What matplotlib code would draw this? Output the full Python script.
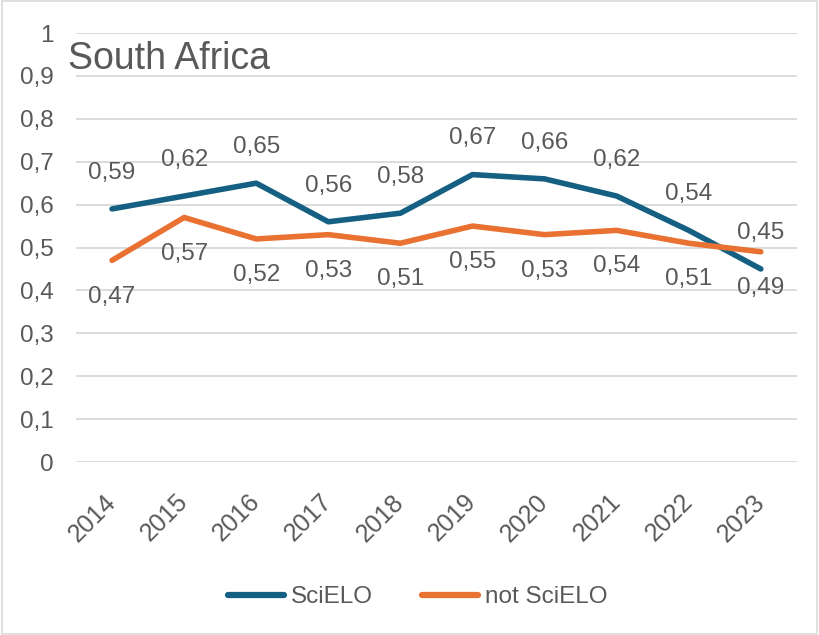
import matplotlib.pyplot as plt
from matplotlib.patches import Rectangle

years = ["2014", "2015", "2016", "2017", "2018", "2019", "2020", "2021", "2022", "2023"]
scielo = [0.59, 0.62, 0.65, 0.56, 0.58, 0.67, 0.66, 0.62, 0.54, 0.45]
not_scielo = [0.47, 0.57, 0.52, 0.53, 0.51, 0.55, 0.53, 0.54, 0.51, 0.49]

blue = "#156082"
orange = "#E97132"
txt = "#595959"
grid = "#D9D9D9"

plt.rcParams["font.family"] = ["Liberation Sans", "DejaVu Sans"]

fig = plt.figure(figsize=(8.19, 6.35), dpi=100)
ax = fig.add_axes([0.0928, 0.2724, 0.8802, 0.6756])

x = list(range(len(years)))
ax.plot(x, scielo, color=blue, lw=4, solid_capstyle="round", solid_joinstyle="round", label="SciELO")
ax.plot(x, not_scielo, color=orange, lw=4, solid_capstyle="round", solid_joinstyle="round", label="not SciELO")

def fmt(v):
    return ("%.2f" % v).replace(".", ",")

for i in x:
    ax.annotate(fmt(scielo[i]), (i, scielo[i]), xytext=(0, 26), textcoords="offset points",
                ha="center", va="center", fontsize=17.5, color=txt)
    ax.annotate(fmt(not_scielo[i]), (i, not_scielo[i]), xytext=(0, -26), textcoords="offset points",
                ha="center", va="center", fontsize=17.5, color=txt)

ax.set_xlim(-0.5, len(years) - 0.5)
ax.set_ylim(0, 1)
yt = [i / 10 for i in range(11)]
ax.set_yticks(yt)
ax.set_yticklabels(["0" if v == 0 else "1" if v == 1 else fmt(v).rstrip("0") for v in yt])
ax.set_xticks(x)
ax.set_xticklabels(years, rotation=45, ha="right", va="center", rotation_mode="anchor")
ax.tick_params(axis="y", length=0, pad=16, labelsize=17.5, labelcolor=txt)
ax.tick_params(axis="x", length=0, pad=26, labelsize=18, labelcolor=txt)
ax.grid(axis="y", color=grid, lw=1.3)
ax.set_axisbelow(True)
for s in ax.spines.values():
    s.set_visible(False)

fig.text(68 / 819, 1 - 69 / 635, "South Africa", fontsize=27, color=txt, ha="left", va="baseline")

leg = fig.legend(loc="center", bbox_to_anchor=(0.51, 1 - 597 / 635), ncol=2, frameon=False,
                 fontsize=17.5, labelcolor=txt, handlelength=2.3, columnspacing=2.0, handletextpad=0.3)
for h in leg.legend_handles:
    h.set_linewidth(4.5)

fig.patches.append(Rectangle((0.002, 0.002), 0.996, 0.996, transform=fig.transFigure,
                             fill=False, edgecolor=grid, lw=1.2))

fig.savefig("out.png", dpi=100)
